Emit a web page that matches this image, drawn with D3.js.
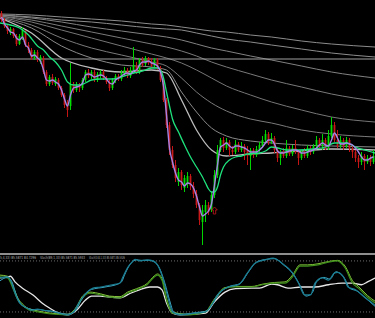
<!DOCTYPE html>
<html>
<head>
<meta charset="utf-8">
<script src="https://cdn.jsdelivr.net/npm/d3@7"></script>
<style>
html, body { margin: 0; padding: 0; background: #000; overflow: hidden; }
svg { display: block; }
</style>
</head>
<body>
<svg id="chart" width="375" height="318"></svg>
<script>
// Candele
const opens = [87.37, 87.30, 87.24, 87.17, 87.21, 87.14, 87.06, 87.12, 87.19, 87.05,
    87.00, 86.92, 86.98, 86.88, 86.92, 86.78, 86.66, 86.73, 86.66, 86.70,
    86.62, 86.55, 86.46, 86.44, 86.66, 86.60, 86.65, 86.62, 86.70, 86.78,
    86.74, 86.78, 86.70, 86.75, 86.78, 86.72, 86.68, 86.62, 86.70, 86.74,
    86.71, 86.76, 86.80, 86.74, 86.79, 86.84, 86.78, 86.90, 86.86, 86.92,
    86.88, 86.84, 86.90, 86.82, 86.70, 86.50, 86.25, 86.00, 85.85, 85.68,
    85.78, 85.62, 85.66, 85.74, 85.64, 85.56, 85.45, 85.28, 85.38, 85.45,
    85.40, 85.55, 85.75, 86.00, 86.10, 86.02, 86.08, 86.00, 85.98, 86.06,
    86.00, 86.04, 86.00, 85.94, 86.00, 85.95, 86.00, 86.04, 86.10, 86.16,
    86.08, 86.12, 86.00, 85.92, 85.98, 85.94, 86.02, 85.96, 86.02, 85.98,
    85.92, 85.98, 85.94, 86.02, 85.98, 86.04, 86.10, 86.04, 86.10, 86.02,
    86.14, 86.25, 86.10, 86.04, 86.10, 86.04, 86.10, 86.02, 85.98, 85.92,
    85.88, 85.94, 85.88, 85.92, 85.88];
const highs = [87.39, 87.32, 87.26, 87.23, 87.22, 87.16, 87.16, 87.23, 87.20, 87.08,
    87.02, 87.00, 87.00, 86.95, 86.94, 86.80, 86.75, 86.76, 86.73, 86.72,
    86.64, 86.57, 86.50, 86.87, 86.68, 86.68, 86.67, 86.72, 86.80, 86.81,
    86.80, 86.80, 86.78, 86.80, 86.80, 86.74, 86.70, 86.72, 86.76, 86.76,
    86.80, 86.83, 86.82, 86.83, 87.03, 86.88, 86.92, 86.93, 86.94, 86.93,
    86.92, 86.92, 86.92, 86.84, 86.72, 86.52, 86.28, 86.04, 85.90, 85.82,
    85.80, 85.75, 85.78, 85.76, 85.68, 85.60, 85.47, 85.45, 85.50, 85.48,
    85.58, 85.80, 86.05, 86.12, 86.13, 86.12, 86.10, 86.04, 86.10, 86.08,
    86.08, 86.06, 86.04, 86.02, 86.02, 86.04, 86.08, 86.14, 86.20, 86.18,
    86.17, 86.14, 86.03, 86.00, 86.02, 86.10, 86.04, 86.05, 86.10, 86.00,
    86.00, 86.02, 86.05, 86.04, 86.06, 86.14, 86.12, 86.16, 86.12, 86.20,
    86.33, 86.28, 86.20, 86.14, 86.12, 86.13, 86.12, 86.05, 86.00, 85.95,
    85.98, 85.96, 85.95, 85.95, 86.00];
const lows = [87.28, 87.22, 87.16, 87.15, 87.12, 87.04, 87.05, 87.10, 87.03, 86.97,
    86.90, 86.90, 86.88, 86.86, 86.76, 86.64, 86.64, 86.65, 86.64, 86.60,
    86.53, 86.42, 86.33, 86.40, 86.57, 86.58, 86.58, 86.60, 86.68, 86.72,
    86.71, 86.68, 86.68, 86.72, 86.70, 86.66, 86.59, 86.60, 86.67, 86.69,
    86.69, 86.74, 86.72, 86.72, 86.76, 86.76, 86.76, 86.83, 86.84, 86.85,
    86.82, 86.82, 86.80, 86.68, 86.48, 86.22, 85.95, 85.82, 85.68, 85.64,
    85.60, 85.58, 85.62, 85.60, 85.52, 85.42, 85.25, 85.05, 85.28, 85.35,
    85.38, 85.52, 85.72, 85.98, 85.98, 86.00, 85.94, 85.95, 85.96, 85.98,
    85.98, 85.90, 85.85, 85.80, 85.92, 85.93, 85.98, 86.02, 86.07, 86.05,
    86.06, 85.97, 85.88, 85.85, 85.92, 85.92, 85.94, 85.94, 85.96, 85.85,
    85.90, 85.92, 85.92, 85.95, 85.96, 86.02, 86.02, 86.00, 86.00, 86.00,
    86.12, 86.08, 86.02, 86.02, 86.00, 86.02, 85.98, 85.92, 85.88, 85.82,
    85.85, 85.80, 85.86, 85.84, 85.86];
const closes = [87.30, 87.24, 87.19, 87.21, 87.14, 87.06, 87.14, 87.20, 87.05, 87.00,
    86.92, 86.98, 86.90, 86.93, 86.78, 86.66, 86.73, 86.67, 86.71, 86.62,
    86.55, 86.45, 86.40, 86.66, 86.60, 86.65, 86.62, 86.70, 86.78, 86.74,
    86.78, 86.70, 86.76, 86.78, 86.72, 86.68, 86.62, 86.70, 86.74, 86.71,
    86.77, 86.80, 86.74, 86.80, 86.85, 86.78, 86.90, 86.85, 86.92, 86.87,
    86.84, 86.90, 86.82, 86.70, 86.50, 86.25, 86.00, 85.85, 85.72, 85.78,
    85.65, 85.72, 85.74, 85.64, 85.56, 85.45, 85.30, 85.40, 85.45, 85.38,
    85.55, 85.75, 86.00, 86.10, 86.02, 86.08, 86.00, 85.98, 86.06, 86.00,
    86.04, 85.98, 85.94, 86.00, 85.95, 86.01, 86.05, 86.10, 86.16, 86.08,
    86.12, 86.00, 85.92, 85.98, 85.94, 86.02, 85.96, 86.02, 85.98, 85.92,
    85.98, 85.94, 86.02, 85.98, 86.04, 86.10, 86.04, 86.10, 86.02, 86.14,
    86.25, 86.10, 86.04, 86.10, 86.04, 86.10, 86.02, 85.98, 85.92, 85.88,
    85.94, 85.88, 85.92, 85.88, 85.94];

// Media veloce (viola), un valore per candela
const maFast = [87.33, 87.26, 87.22, 87.18, 87.17, 87.12, 87.10, 87.13, 87.05, 87.02,
    86.94, 86.95, 86.92, 86.89, 86.80, 86.70, 86.69, 86.70, 86.68, 86.66,
    86.60, 86.51, 86.44, 86.55, 86.62, 86.63, 86.64, 86.67, 86.75, 86.76,
    86.75, 86.73, 86.74, 86.75, 86.74, 86.71, 86.67, 86.66, 86.70, 86.72,
    86.74, 86.76, 86.77, 86.76, 86.79, 86.80, 86.85, 86.88, 86.88, 86.89,
    86.87, 86.86, 86.84, 86.78, 86.64, 86.35, 86.02, 85.88, 85.77, 85.70,
    85.68, 85.64, 85.67, 85.66, 85.62, 85.54, 85.43, 85.34, 85.36, 85.39,
    85.46, 85.65, 85.85, 86.03, 86.05, 86.07, 86.04, 86.02, 86.04, 86.04,
    86.03, 86.02, 86.00, 85.98, 85.98, 85.98, 86.00, 86.03, 86.07, 86.10,
    86.10, 86.06, 85.99, 85.97, 85.97, 85.98, 85.99, 86.00, 86.00, 85.99,
    85.97, 85.97, 85.98, 85.99, 86.00, 86.02, 86.05, 86.07, 86.05, 86.04,
    86.10, 86.17, 86.12, 86.06, 86.06, 86.07, 86.06, 86.05, 86.02, 85.98,
    85.93, 85.90, 85.90, 85.92, 85.93];

// Media verde [candela, prezzo]
const maGreen = [[-0.5, 87.27], [3, 87.25], [6, 87.22], [9, 87.15], [12, 87.04], [14, 87.00],
    [16, 86.93], [18, 86.88], [20, 86.80], [22, 86.68], [24, 86.65], [26, 86.65],
    [28, 86.67], [30, 86.70], [33, 86.71], [37, 86.71], [40, 86.73], [42, 86.75],
    [44, 86.77], [46, 86.78], [48, 86.80], [50, 86.82], [52, 86.82], [53, 86.80],
    [54, 86.72], [55, 86.58], [56, 86.44], [57, 86.31], [59, 86.18], [61, 86.05],
    [63, 85.93], [65, 85.83], [67, 85.73], [68, 85.67], [69, 85.61], [70, 85.58],
    [71, 85.58], [72, 85.63], [73, 85.75], [74, 85.83], [76, 85.90], [78, 85.93],
    [80, 85.94], [82, 85.96], [86, 85.97], [88, 85.99], [90, 86.03], [92, 86.02],
    [95, 86.00], [99, 86.00], [104, 86.01], [108, 86.03], [111, 86.07], [115, 86.07],
    [118, 86.03], [121, 86.00], [124.5, 85.97]];

// Medie lente (grigie)
const grayBars = [-0.5, 10, 20, 30, 40, 50, 55, 60, 65, 70, 75, 83, 90, 100, 110, 124.5];
const maGray1 = [87.36, 87.35, 87.33, 87.31, 87.29, 87.26, 87.25, 87.23, 87.21, 87.19, 87.18, 87.15, 87.13, 87.09, 87.06, 87.03];
const maGray2 = [87.35, 87.33, 87.30, 87.28, 87.25, 87.22, 87.21, 87.20, 87.17, 87.14, 87.11, 87.08, 87.05, 87.01, 86.97, 86.93];
const maGray3 = [87.35, 87.32, 87.28, 87.23, 87.19, 87.15, 87.13, 87.10, 87.06, 87.02, 86.99, 86.94, 86.90, 86.84, 86.78, 86.72];
const maGray4 = [87.34, 87.30, 87.24, 87.18, 87.12, 87.06, 87.03, 86.99, 86.94, 86.88, 86.83, 86.76, 86.70, 86.63, 86.56, 86.49];
const maGray5 = [87.34, 87.28, 87.20, 87.12, 87.04, 86.96, 86.92, 86.87, 86.80, 86.72, 86.64, 86.55, 86.48, 86.40, 86.33, 86.28];
const maGray6 = [87.33, 87.25, 87.12, 87.02, 86.95, 86.88, 86.84, 86.72, 86.58, 86.47, 86.39, 86.31, 86.27, 86.20, 86.16, 86.13];
const maGray7 = [87.32, 87.22, 87.04, 86.92, 86.85, 86.83, 86.80, 86.58, 86.38, 86.22, 86.14, 86.09, 86.07, 86.05, 86.04, 86.03];
const maGray8 = [87.32, 87.17, 86.92, 86.82, 86.78, 86.80, 86.77, 86.50, 86.20, 86.00, 85.94, 85.96, 85.97, 85.99, 86.01, 86.00];

const priceLine = 86.91;
const arrowBar = 71;
const arrowPrice = 85.43;

// Stocastici [candela, valore]
const stochTeal1 = [[-0.5, 65], [2, 67], [3, 61], [4.5, 38], [6, 21], [8.5, 12], [10, 8], [12, 10], [14, 8], [16, 7],
    [22, 0], [24, 5], [26, 23], [28.5, 40], [30.5, 47], [33, 49], [35, 51], [37, 53], [39.5, 56], [40.5, 67],
    [42, 83], [43.5, 93], [44.5, 98], [46, 95], [48.5, 97], [50.5, 95], [52, 88], [54, 61], [55.5, 30], [57, 5],
    [59.5, 0], [64.5, 3], [68, 5], [70, 17], [72, 35], [75.5, 49], [79, 53], [82, 74], [84.5, 91], [88, 97],
    [90.5, 100], [93.5, 91], [97, 74], [99, 56], [101, 35], [103, 35], [104.5, 56], [107, 65], [109, 61], [111, 74],
    [112, 75], [114, 67], [115.5, 49], [118, 44], [121, 31], [123.5, 21], [124.5, 17]];
const stochTeal2 = [[-0.5, 60], [2, 66], [3.5, 58], [5, 34], [6.5, 19], [9, 11], [11, 9], [13, 9], [15, 7], [17, 6],
    [22, 1], [24.5, 6], [26.5, 25], [29, 42], [31, 46], [33.5, 48], [35.5, 50], [37.5, 52], [40, 58], [41, 70],
    [42.5, 86], [44, 95], [45, 97], [46.5, 96], [49, 96], [51, 93], [52.5, 84], [54.5, 55], [56, 26], [57.5, 4],
    [60, 1], [65, 4], [68.5, 7], [70.5, 20], [72.5, 37], [76, 50], [79.5, 55], [82.5, 77], [85, 93], [88.5, 98],
    [91, 99], [94, 88], [97.5, 70], [99.5, 52], [101.5, 33], [103.5, 38], [105, 58], [107.5, 66], [109.5, 63], [111.5, 76],
    [112.5, 74], [114.5, 63], [116, 47], [118.5, 42], [121.5, 29], [124.5, 15]];
const stochGreen1 = [[-0.5, 67], [2, 65], [4, 44], [5.5, 26], [7, 17], [9.5, 8], [22, 0], [25, 12], [27, 30], [29.5, 38],
    [33, 35], [36, 31], [39.5, 30], [42, 38], [45, 44], [48.5, 53], [51, 67], [52, 70], [53.5, 61], [55, 26],
    [57, 3], [62, 0], [68, 5], [71, 26], [74.5, 47], [78, 49], [83.5, 49], [87, 53], [91, 56], [94.5, 56],
    [97, 67], [99.5, 86], [102, 86], [105.5, 88], [109, 93], [112, 95], [114.5, 83], [117, 56], [119, 47], [122, 31],
    [124.5, 21]];
const stochGreen2 = [[-0.5, 70], [2, 68], [4, 48], [5.5, 29], [7, 19], [9.5, 10], [22, 1], [25, 14], [27, 33], [29.5, 40],
    [33, 37], [36, 33], [39.5, 32], [42, 40], [45, 46], [48.5, 55], [51, 69], [52, 72], [53.5, 64], [55, 29],
    [57, 5], [62, 1], [68, 6], [71, 28], [74.5, 48], [78, 50], [83.5, 50], [87, 54], [91, 57], [94.5, 58],
    [97, 70], [99.5, 88], [102, 88], [105.5, 90], [109, 94], [112, 96], [114.5, 86], [117, 60], [119, 50], [122, 34],
    [124.5, 24]];
const stochWhite = [[-0.5, 65], [2, 67], [3, 68], [4.5, 58], [7, 47], [10.5, 35], [13.5, 21], [16, 12], [19, 3], [22, 0],
    [25, 8], [28, 26], [30, 33], [33, 33], [36, 31], [39.5, 30], [43, 38], [46, 44], [49.5, 49], [52, 49],
    [53.5, 44], [55, 21], [57, 3], [59.5, 0], [68, 3], [71, 23], [74.5, 40], [78, 46], [83.5, 47], [86, 47],
    [90, 54], [92, 53], [95.5, 47], [100, 49], [104.5, 49], [109, 53], [113.5, 56], [117, 56], [120, 53], [122, 58],
    [124.5, 65]];
const stochLevels = [95, 5];
const stochLabels = ["5,4,33) 85.5871 84.7296", "Stoch(89,1,33) 85.5871 85.5933", "Stoch(144,1,33) 85.5871 85.5526"];

const W = 375, H = 318;
const svg = d3.select("#chart");
svg.append("rect").attr("width", W).attr("height", H).attr("fill", "#000");

const x = d3.scaleLinear().domain([-0.5, 124.5]).range([0, W]);
const y = d3.scaleLinear().domain([85.00, 87.50]).range([250, 0]);
const ys = d3.scaleLinear().domain([0, 100]).range([314.8, 258.1]);

// Medie grigie
const grayLine = d3.line().x(d => x(d[0])).y(d => y(d[1])).curve(d3.curveMonotoneX);
const grays = [
    [maGray1, "#8c8c8c", 1], [maGray2, "#8c8c8c", 1], [maGray3, "#828282", 1], [maGray4, "#7a7a7a", 1],
    [maGray5, "#767676", 1], [maGray6, "#7a7a7a", 1], [maGray7, "#8a8a8a", 1], [maGray8, "#bdbdbd", 1.3]
];
grays.forEach(g => {
    svg.append("path")
        .attr("d", grayLine(grayBars.map((b, i) => [b, g[0][i]])))
        .attr("fill", "none")
        .attr("stroke", g[1])
        .attr("stroke-width", g[2]);
});

// Linea prezzo
svg.append("line")
    .attr("x1", 0).attr("x2", W)
    .attr("y1", y(priceLine)).attr("y2", y(priceLine))
    .attr("stroke", "#a0a0a0").attr("stroke-width", 1);

// Candele
const candles = closes.map((c, i) => ({ i: i, o: opens[i], h: highs[i], l: lows[i], c: c }));
const gC = svg.append("g");
gC.selectAll("line.wick")
    .data(candles)
    .enter()
    .append("line")
    .attr("x1", d => x(d.i)).attr("x2", d => x(d.i))
    .attr("y1", d => y(d.h)).attr("y2", d => y(d.l))
    .attr("stroke", d => d.c >= d.o ? "#00d400" : "#c41414")
    .attr("stroke-width", 1);
gC.selectAll("rect.body")
    .data(candles)
    .enter()
    .append("rect")
    .attr("x", d => x(d.i) - 0.9)
    .attr("width", 1.8)
    .attr("y", d => y(Math.max(d.o, d.c)))
    .attr("height", d => Math.max(1, Math.abs(y(d.o) - y(d.c))))
    .attr("fill", d => d.c >= d.o ? "#00e000" : "#c81818");

// Media verde
const line = d3.line().x(d => x(d[0])).y(d => y(d[1])).curve(d3.curveMonotoneX);
svg.append("path")
    .attr("d", line(maGreen))
    .attr("fill", "none").attr("stroke", "#1ee27c").attr("stroke-width", 1.3);

// Media viola
svg.append("path")
    .attr("d", line(maFast.map((v, i) => [i, v])))
    .attr("fill", "none").attr("stroke", "#a484e6").attr("stroke-width", 1.4);

// Freccia
const ax = x(arrowBar), ay = y(arrowPrice);
svg.append("path")
    .attr("d", `M${ax},${ay} L${ax + 2.8},${ay + 3} L${ax + 1.2},${ay + 3} L${ax + 1.2},${ay + 7} L${ax - 1.2},${ay + 7} L${ax - 1.2},${ay + 3} L${ax - 2.8},${ay + 3} Z`)
    .attr("fill", "none").attr("stroke", "#b01818").attr("stroke-width", 0.9);

// Separatore finestra stocastico
svg.append("rect").attr("x", 0).attr("y", 253).attr("width", W).attr("height", 2).attr("fill", "#8e8e8e");

svg.selectAll("line.level")
    .data(stochLevels)
    .enter()
    .append("line")
    .attr("x1", 0).attr("x2", W)
    .attr("y1", d => ys(d)).attr("y2", d => ys(d))
    .attr("stroke", "#8a8a8a").attr("stroke-width", 0.8)
    .attr("stroke-dasharray", "1,2");

const sLine = d3.line().x(d => x(d[0])).y(d => ys(d[1])).curve(d3.curveMonotoneX);
[[stochWhite, "#e6e6e6", 1.3], [stochGreen2, "#86c93c", 1], [stochGreen1, "#3f8f1c", 1.2],
 [stochTeal2, "#3fa7c4", 1], [stochTeal1, "#1b7d92", 1.2]].forEach(s => {
    svg.append("path")
        .attr("d", sLine(s[0]))
        .attr("fill", "none").attr("stroke", s[1]).attr("stroke-width", s[2]);
});

// Etichette: testo compresso in orizzontale per stare nello spazio
const labX = [0, 40, 89], labW = [36, 45, 36];
stochLabels.forEach((t, i) => {
    const txt = svg.append("text")
        .attr("x", 0).attr("y", 0)
        .attr("font-family", "DejaVu Sans")
        .attr("font-size", 4.2)
        .attr("fill", "#b4b4b4")
        .text(t);
    const len = txt.node().getComputedTextLength();
    txt.attr("transform", `translate(${labX[i]},259.2) scale(${labW[i] / len},1)`);
});
</script>
</body>
</html>
